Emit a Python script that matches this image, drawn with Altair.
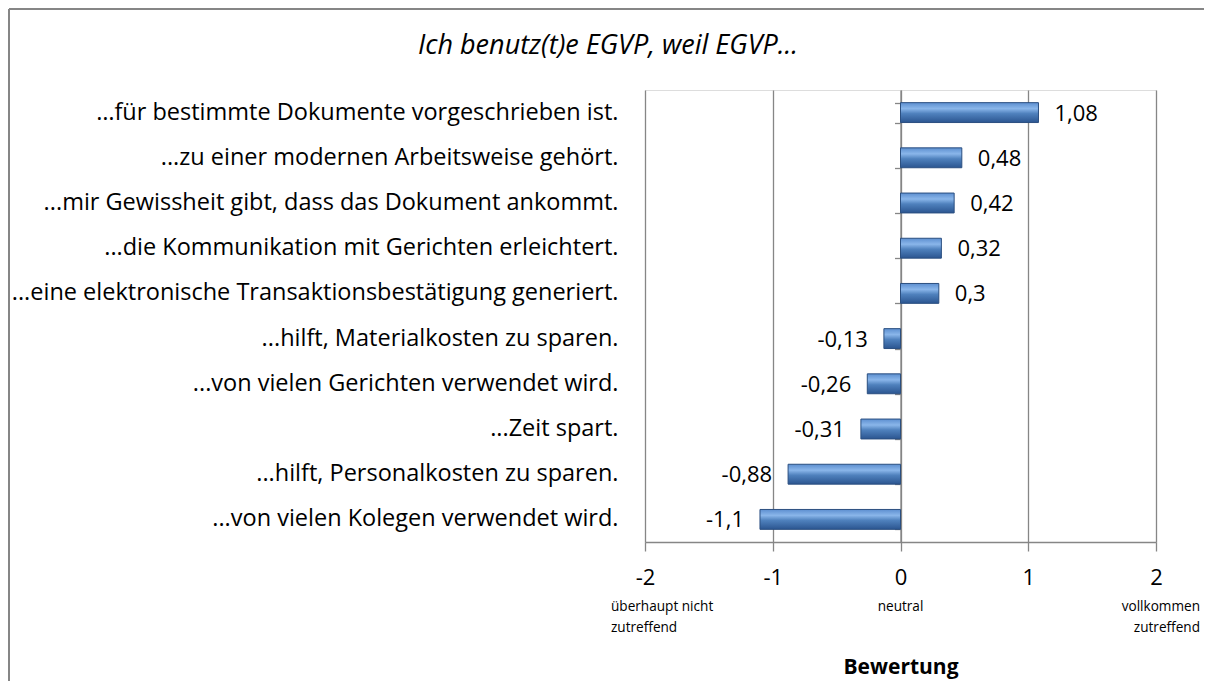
import altair as alt
import pandas as pd

categories = [
    "…für bestimmte Dokumente vorgeschrieben ist.",
    "...zu einer modernen Arbeitsweise gehört.",
    "...mir Gewissheit gibt, dass das Dokument ankommt.",
    "...die Kommunikation mit Gerichten erleichtert.",
    "...eine elektronische Transaktionsbestätigung generiert.",
    "...hilft, Materialkosten zu sparen.",
    "...von vielen Gerichten verwendet wird.",
    "...Zeit spart.",
    "...hilft, Personalkosten zu sparen.",
    "...von vielen Kolegen verwendet wird.",
]
values = [1.08, 0.48, 0.42, 0.32, 0.3, -0.13, -0.26, -0.31, -0.88, -1.1]
x_ticks = [-2, -1, 0, 1, 2]
title_text = ["Ich benutz(t)e EGVP, weil EGVP..."]
scale_notes = [
    {"pos": -2, "text": "überhaupt nicht\nzutreffend"},
    {"pos": 0, "text": "neutral"},
    {"pos": 2, "text": "vollkommen\nzutreffend"},
]

FONT = "Open Sans"
GRAY = "#868686"

df = pd.DataFrame({"cat": categories, "v": values})
notes = pd.DataFrame(scale_notes)
titles = pd.DataFrame({"t": title_text})

W, H = 511, 452
PAD_L, PAD_T = 637, 82
PAD_R = 1196 - PAD_L - W
PAD_B = 673 - PAD_T - H

xscale = alt.Scale(domain=[-2, 2], nice=False, zero=False)

label_axis = alt.Axis(
    orient="left", title=None, domain=False, ticks=False, tickSize=0, grid=False,
    labelPadding=27, labelFont=FONT, labelFontSize=23.5, labelColor="#000000",
    labelLimit=700,
)
zero_axis = alt.Axis(
    orient="left", title=None, offset=-(W / 2), domain=True, domainColor=GRAY,
    domainWidth=1.3, ticks=True, tickBand="extent", tickSize=6, tickColor=GRAY,
    tickWidth=1.3, labels=False, grid=False,
)
x_axis = alt.Axis(
    values=x_ticks, labelExpr="toString(datum.value)",
    title="Bewertung", titleFont=FONT, titleFontSize=21,
    titleFontWeight="bold", titleColor="#000000", titlePadding=68,
    labelFont=FONT, labelFontSize=22, labelColor="#000000", labelPadding=16,
    tickSize=9, tickColor=GRAY, tickWidth=1.3, domainColor=GRAY, domainWidth=1.3,
    grid=True, gridColor=GRAY, gridWidth=1.3, labelFlush=False,
)

ysort = alt.Y("cat:N", sort=None, axis=label_axis,
              scale=alt.Scale(paddingInner=0.56, paddingOuter=0.28))

gradient = alt.Gradient(
    gradient="linear", x1=0, y1=0, x2=0, y2=1,
    stops=[
        alt.GradientStop(offset=0.0, color="#5d8fd0"),
        alt.GradientStop(offset=0.3, color="#8ab6ea"),
        alt.GradientStop(offset=0.55, color="#4f81bd"),
        alt.GradientStop(offset=1.0, color="#2b5590"),
    ],
)

bars = alt.Chart(df).mark_bar(fill=gradient, stroke="#2b4f80", strokeWidth=1).encode(
    x=alt.X("v:Q", scale=xscale, axis=x_axis),
    x2=alt.datum(0),
    y=ysort,
)

lab = "replace(toString(datum.v), '.', ',')"
pos_text = alt.Chart(df).transform_filter("datum.v >= 0").transform_calculate(
    t=lab
).mark_text(align="left", baseline="middle", dx=16, dy=1, font=FONT, fontSize=22,
            color="#000000").encode(
    x=alt.X("v:Q", scale=xscale),
    y=alt.Y("cat:N", sort=categories, axis=zero_axis),
    text="t:N",
)
neg_text = alt.Chart(df).transform_filter("datum.v < 0").transform_calculate(
    t=lab
).mark_text(align="right", baseline="middle", dx=-16, dy=1, font=FONT, fontSize=22,
            color="#000000").encode(
    x=alt.X("v:Q", scale=xscale),
    y=alt.Y("cat:N", sort=categories, axis=None),
    text="t:N",
)

def note_layer(pos, align, dx):
    return alt.Chart(notes).transform_filter(f"datum.pos == {pos}").mark_text(
        align=align, baseline="middle", dx=dx, font=FONT, fontSize=13.6, color="#000000",
        lineBreak="\n", lineHeight=21,
    ).encode(
        x=alt.X("pos:Q", scale=xscale),
        y=alt.value(517),
        text="text:N",
    )

notes_left = note_layer(-2, "left", -34)
notes_mid = note_layer(0, "center", 0)
notes_right = note_layer(2, "right", 44)

title_layer = alt.Chart(titles).mark_text(
    align="center", baseline="alphabetic", font=FONT, fontSize=27,
    fontStyle="italic", color="#000000",
).encode(
    x=alt.value(608 - 645),
    y=alt.value(-36),
    text="t:N",
)

frame_top = alt.Chart(titles).mark_rule(color=GRAY, strokeWidth=2, clip=False).encode(
    x=alt.value(-PAD_L + 1),
    x2=alt.value(W + PAD_R),
    y=alt.value(-PAD_T + 1),
)
frame_left = alt.Chart(titles).mark_rule(color=GRAY, strokeWidth=2, clip=False).encode(
    x=alt.value(-PAD_L + 1),
    y=alt.value(-PAD_T + 1),
    y2=alt.value(H + PAD_B),
)

chart = alt.layer(
    frame_top, frame_left, title_layer, bars, pos_text, neg_text,
    notes_left, notes_mid, notes_right,
).resolve_axis(y="independent").properties(
    width=W, height=H,
    padding={"left": PAD_L, "top": PAD_T, "right": PAD_R, "bottom": PAD_B},
    autosize=alt.AutoSizeParams(type="none"),
).configure_view(stroke=None).configure(background="white")

chart.save("out.html", embed_options={"renderer": "svg", "actions": False})
